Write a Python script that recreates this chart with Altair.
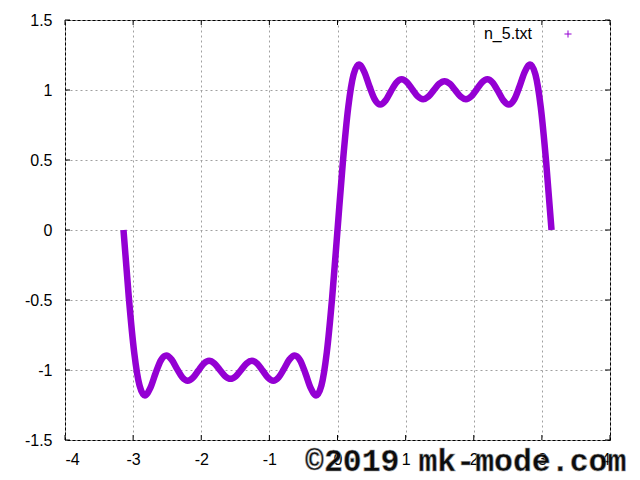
import altair as alt
import pandas as pd

# ---- data (partial Fourier sum of a square wave, n=5) ----
x_vals = [-3.1416, -3.0631, -2.9845, -2.9060, -2.8274, -2.7489, -2.6704, -2.5918, -2.5133, -2.4347,
          -2.3562, -2.2777, -2.1991, -2.1206, -2.0420, -1.9635, -1.8850, -1.8064, -1.7279, -1.6493,
          -1.5708, -1.4923, -1.4137, -1.3352, -1.2566, -1.1781, -1.0996, -1.0210, -0.9425, -0.8639,
          -0.7854, -0.7069, -0.6283, -0.5498, -0.4712, -0.3927, -0.3142, -0.2356, -0.1571, -0.0785,
          0.0,
          0.0785, 0.1571, 0.2356, 0.3142, 0.3927, 0.4712, 0.5498, 0.6283, 0.7069, 0.7854,
          0.8639, 0.9425, 1.0210, 1.0996, 1.1781, 1.2566, 1.3352, 1.4137, 1.4923, 1.5708,
          1.6493, 1.7279, 1.8064, 1.8850, 1.9635, 2.0420, 2.1206, 2.1991, 2.2777, 2.3562,
          2.4347, 2.5133, 2.5918, 2.6704, 2.7489, 2.8274, 2.9060, 2.9845, 3.0631, 3.1416]
y_vals = [0.0, -0.483, -0.874, -1.110, -1.182, -1.130, -1.023, -0.930, -0.896, -0.926,
          -0.992, -1.053, -1.077, -1.055, -1.004, -0.954, -0.934, -0.953, -0.999, -1.044,
          -1.063, -1.044, -0.999, -0.953, -0.934, -0.954, -1.004, -1.055, -1.077, -1.053,
          -0.992, -0.926, -0.896, -0.930, -1.023, -1.130, -1.182, -1.110, -0.874, -0.483,
          0.0,
          0.483, 0.874, 1.110, 1.182, 1.130, 1.023, 0.930, 0.896, 0.926, 0.992,
          1.053, 1.077, 1.055, 1.004, 0.954, 0.934, 0.953, 0.999, 1.044, 1.063,
          1.044, 0.999, 0.953, 0.934, 0.954, 1.004, 1.055, 1.077, 1.053, 0.992,
          0.926, 0.896, 0.930, 1.023, 1.130, 1.182, 1.110, 0.874, 0.483, 0.0]
x_ticks = [-4, -3, -2, -1, 0, 1, 2, 3, 4]
y_ticks = [-1.5, -1, -0.5, 0, 0.5, 1, 1.5]
legend_label = "n_5.txt"
watermark = "©2019 mk-mode.com"

W, H = 545, 420
PURPLE = "#9400D3"
FONT = "Liberation Sans"

df = pd.DataFrame({"x": x_vals, "y": y_vals})
xt = pd.DataFrame({"t": x_ticks})
yt = pd.DataFrame({"t": y_ticks})

xs = alt.Scale(domain=[-4, 4], nice=False, zero=False)
ys = alt.Scale(domain=[-1.5, 1.5], nice=False, zero=False)

xaxis = alt.Axis(values=x_ticks, grid=True, gridDash=[2, 3], gridColor="#a0a0a0", gridWidth=1,
                 ticks=False, domain=False, labelExpr="datum.value + ''", labelFont=FONT,
                 labelFontSize=16, labelColor="black", labelPadding=11, title="")
yaxis = alt.Axis(values=y_ticks, grid=True, gridDash=[2, 3], gridColor="#a0a0a0", gridWidth=1,
                 ticks=False, domain=False, labelExpr="datum.value + ''", labelFont=FONT,
                 labelFontSize=16, labelColor="black", labelPadding=13, title="")

line = alt.Chart(df).mark_line(color=PURPLE, strokeWidth=6.5, interpolate="monotone").encode(
    x=alt.X("x:Q", scale=xs, axis=xaxis),
    y=alt.Y("y:Q", scale=ys, axis=yaxis),
)

tick_len = 5
bottom_ticks = alt.Chart(xt).mark_rule(color="black").encode(
    x=alt.X("t:Q", scale=xs, axis=xaxis), y=alt.value(H), y2=alt.value(H - tick_len))
top_ticks = alt.Chart(xt).mark_rule(color="black").encode(
    x=alt.X("t:Q", scale=xs, axis=xaxis), y=alt.value(0), y2=alt.value(tick_len))
left_ticks = alt.Chart(yt).mark_rule(color="black").encode(
    y=alt.Y("t:Q", scale=ys, axis=yaxis), x=alt.value(0), x2=alt.value(tick_len))
right_ticks = alt.Chart(yt).mark_rule(color="black").encode(
    y=alt.Y("t:Q", scale=ys, axis=yaxis), x=alt.value(W), x2=alt.value(W - tick_len))

leg_text = alt.Chart(pd.DataFrame({"t": [legend_label]})).mark_text(
    align="right", baseline="middle", font=FONT, fontSize=16, color="black"
).encode(x=alt.value(467), y=alt.value(14), text="t:N")
leg_sym = alt.Chart(pd.DataFrame({"t": [legend_label]})).mark_point(
    shape="M-1,0L1,0M0,-1L0,1", size=50, filled=False, stroke=PURPLE, strokeWidth=1, opacity=1
).encode(x=alt.value(503), y=alt.value(14))

wm = alt.Chart(pd.DataFrame({"t": [watermark]})).mark_text(
    align="left", baseline="alphabetic", font="Liberation Mono", fontWeight="bold",
    fontSize=31.5, color="black", stroke="#9a9a9a", strokeWidth=0.6, opacity=0.95
).encode(x=alt.value(240), y=alt.value(451), text="t:N")

chart = alt.layer(line, bottom_ticks, top_ticks, left_ticks, right_ticks, leg_text, leg_sym, wm).properties(
    width=W, height=H,
    autosize=alt.AutoSizeParams(type="none"),
    padding={"left": 57, "top": 12, "right": 22, "bottom": 32},
    background="white",
).configure_view(stroke="black", strokeWidth=1)

chart.save("out.html", embed_options={"renderer": "svg", "actions": False})
